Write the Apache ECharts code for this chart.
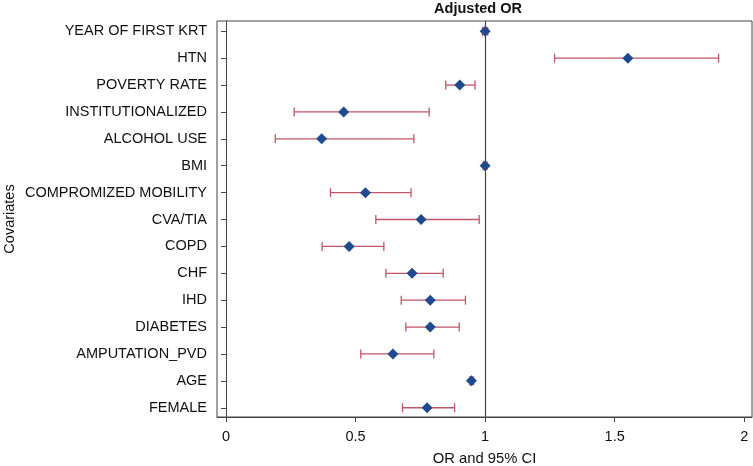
<!DOCTYPE html>
<html>
<head>
<meta charset="utf-8">
<script src="https://cdn.jsdelivr.net/npm/echarts@6/dist/echarts.min.js"></script>
<style>html,body{margin:0;padding:0;background:#fff}#c{width:753px;height:466px}</style>
</head>
<body>
<div id="c"></div>
<script>
const categories = ["YEAR OF FIRST KRT","HTN","POVERTY RATE","INSTITUTIONALIZED","ALCOHOL USE","BMI","COMPROMIZED MOBILITY","CVA/TIA","COPD","CHF","IHD","DIABETES","AMPUTATION_PVD","AGE","FEMALE"];
const orValues = [1.00, 1.551, 0.902, 0.454, 0.369, 1.00, 0.538, 0.753, 0.475, 0.718, 0.788, 0.788, 0.644, 0.947, 0.776];
const ciLow   = [0.99, 1.268, 0.848, 0.263, 0.190, 0.993, 0.403, 0.578, 0.371, 0.617, 0.676, 0.694, 0.520, 0.940, 0.681];
const ciHigh  = [1.01, 1.901, 0.961, 0.784, 0.725, 1.007, 0.714, 0.977, 0.609, 0.838, 0.924, 0.900, 0.802, 0.955, 0.882];
const xTicks = [0, 0.5, 1, 1.5, 2];

const rows = categories.map((c, i) => i + 1);
const barData = categories.map((c, i) => [ciLow[i], ciHigh[i], i + 1]);
const pointData = categories.map((c, i) => [orValues[i], i + 1]);

const chart = echarts.init(document.getElementById('c'));
const font = 'Liberation Sans, Arial, Helvetica, sans-serif';
chart.setOption({
  animation: false,
  textStyle: { fontFamily: font },
  title: {
    text: 'Adjusted OR', left: 478, top: 1, padding: 0, textAlign: 'center',
    textStyle: { fontSize: 14.5, fontWeight: 'bold', color: '#111', fontFamily: font }
  },
  grid: { left: 217, top: 21, right: 1, bottom: 49, containLabel: false, outerBoundsMode: 'none', show: true, borderColor: '#444', borderWidth: 1, backgroundColor: 'transparent' },
  xAxis: {
    type: 'value', min: -0.035, max: 2.03,
    name: 'OR and 95% CI', nameLocation: 'middle', nameGap: 34,
    nameTextStyle: { fontSize: 14.8, color: '#111', fontFamily: font },
    axisLine: { show: true, lineStyle: { color: '#444', width: 1 } },
    axisTick: { show: true, length: 5, lineStyle: { color: '#444' }, customValues: xTicks },
    axisLabel: { fontSize: 14.5, color: '#111', margin: 12, customValues: xTicks, formatter: v => String(v), fontFamily: font },
    splitLine: { show: false }
  },
  yAxis: {
    type: 'value', inverse: true, min: 0.617, max: 15.344,
    name: 'Covariates', nameLocation: 'middle', nameGap: 200, nameRotate: 90, nameMoveOverlap: false,
    nameTextStyle: { fontSize: 14.5, color: '#111', fontFamily: font },
    axisLine: { show: true, lineStyle: { color: '#444', width: 1 } },
    axisTick: { show: true, length: 5, lineStyle: { color: '#444' }, customValues: rows },
    axisLabel: { fontSize: 14.5, color: '#111', margin: 10, customValues: rows, formatter: v => categories[Math.round(v) - 1] || '', fontFamily: font },
    splitLine: { show: false }
  },
  series: [
    {
      type: 'custom',
      data: barData,
      encode: { x: [0, 1], y: 2 },
      renderItem: function (params, api) {
        const y = api.value(2);
        const p1 = api.coord([api.value(0), y]);
        const p2 = api.coord([api.value(1), y]);
        const h = 4.5;
        const style = { stroke: '#c25567', lineWidth: 1.3 };
        return {
          type: 'group',
          children: [
            { type: 'line', shape: { x1: p1[0], y1: p1[1], x2: p2[0], y2: p2[1] }, style: style },
            { type: 'line', shape: { x1: p1[0], y1: p1[1] - h, x2: p1[0], y2: p1[1] + h }, style: style },
            { type: 'line', shape: { x1: p2[0], y1: p2[1] - h, x2: p2[0], y2: p2[1] + h }, style: style }
          ]
        };
      },
      markLine: {
        silent: true, symbol: 'none', label: { show: false },
        lineStyle: { color: '#444', width: 1.2, type: 'solid' },
        data: [{ xAxis: 1 }]
      },
      z: 2
    },
    {
      type: 'scatter',
      data: pointData,
      symbol: 'diamond',
      symbolSize: [11, 11],
      itemStyle: { color: '#1f4a90', opacity: 1 },
      z: 3
    }
  ]
});
</script>
</body>
</html>
